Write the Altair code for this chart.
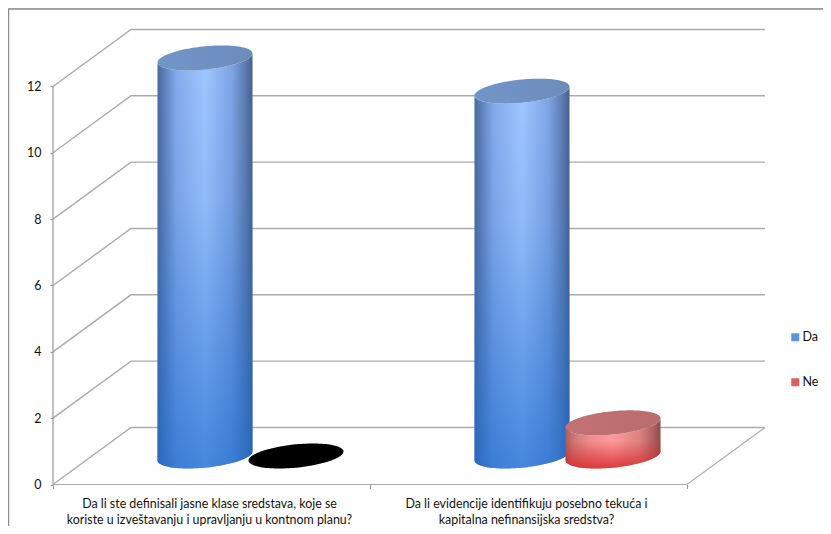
import math
import altair as alt
import pandas as pd

categories = ["Da li ste definisali jasne klase sredstava, koje se\nkoriste u izveštavanju i upravljanju u kontnom planu?",
              "Da li evidencije identifikuju posebno tekuća i\nkapitalna nefinansijska sredstva?"]
series = ["Da", "Ne"]
da_values = [12, 11]
ne_values = [0, 1]
y_ticks = [0, 2, 4, 6, 8, 10, 12]

W, H = 815, 518
PX_X = 317.0      # pixels per category
PX_Y = 33.17      # pixels per unit
X0, Y0 = 45.0, 476.5   # origin inside the svg
DEPTH_X = 78 / PX_X
DEPTH_Y = 57 / PX_Y
RX = 47.5 / PX_X
RY = 12.5 / PX_Y
PHI = math.radians(21)
SPREAD = 45.5 / PX_X

xdom = [-X0 / PX_X, (W - X0) / PX_X]
ydom = [(Y0 - H) / PX_Y, Y0 / PX_Y]
xs = alt.Scale(domain=xdom, nice=False, zero=False)
ys = alt.Scale(domain=ydom, nice=False, zero=False)
X = alt.X("x:Q", scale=xs)
Y = alt.Y("y:Q", scale=ys)
Y2 = alt.Y2("y2:Q")


def grad(stops, horizontal=True):
    return alt.LinearGradient(
        gradient="linear",
        stops=[alt.GradientStop(color=c, offset=o) for o, c in stops],
        x1=0, x2=1 if horizontal else 0, y1=0, y2=0 if horizontal else 1,
    )


def centre(cat, ser):
    return cat + 0.5 + DEPTH_X / 2 + (-SPREAD if ser == 0 else SPREAD)


def arc(t):
    return RY * math.sin(t + PHI)


def body_df(cat, ser, v):
    cx = centre(cat, ser)
    base = DEPTH_Y / 2
    rows = []
    for i in range(61):
        t = math.pi + math.pi * i / 60
        rows.append({"x": cx + RX * math.cos(t), "y": base + v + arc(t), "y2": base + arc(t)})
    return pd.DataFrame(rows)


def top_df(cat, ser, v):
    cx = centre(cat, ser)
    base = DEPTH_Y / 2
    rows = []
    for i in range(61):
        t = math.pi + math.pi * i / 60
        rows.append({"x": cx + RX * math.cos(t), "y": base + v + arc(-t), "y2": base + v + arc(t)})
    return pd.DataFrame(rows)


BLUE_H = [(0, "#4a689c"), (0.06, "#5c7cb5"), (0.2, "#86aaea"), (0.5, "#a0c7ff"), (0.78, "#80a5e4"), (0.93, "#5c7aae"), (1, "#465f8a")]
BLUE_V = [(0, "rgba(30,105,205,0)"), (0.35, "rgba(30,105,205,0.12)"), (1, "rgba(25,105,205,0.68)")]
BLUE_TOP = [(0, "#7295c9"), (1, "#6c8cbc")]
RED_H = [(0, "#a85c5c"), (0.08, "#cc7878"), (0.25, "#ee9292"), (0.5, "#ffa0a0"), (0.78, "#dd8585"), (0.93, "#ad6060"), (1, "#8f4c4c")]
RED_V = [(0, "rgba(215,40,40,0)"), (0.45, "rgba(215,40,40,0.05)"), (1, "rgba(215,40,40,0.85)")]
RED_TOP = [(0, "#c27274"), (1, "#bb6c6e")]

layers = []

# axes come first so that their definition is the one that is kept
axes_df = pd.DataFrame({"x": [0.0], "y": [0.0]})
layers.append(alt.Chart(axes_df).mark_point(opacity=0).encode(
    x=alt.X("x:Q", scale=xs, title=None, axis=alt.Axis(
        values=[0, 1, 2], labels=False, grid=False, domain=False, ticks=True,
        tickColor="#9a9a9a", tickSize=4, tickWidth=1.2, offset=-(H - Y0))),
    y=alt.Y("y:Q", scale=ys, title=None, axis=alt.Axis(
        values=y_ticks, grid=False, domain=False, ticks=True, tickColor="#9a9a9a",
        tickSize=3, tickWidth=1.2, offset=-X0, labelPadding=9, labelFont="Lato",
        labelFontSize=12.5, labelColor="#111111")),
))

# frame of the chart area
frame = pd.DataFrame({"x": [xdom[0] + 0.5 / PX_X, xdom[0] + 0.5 / PX_X, xdom[1]],
                      "y": [ydom[0], ydom[1] - 1 / PX_Y, ydom[1] - 1 / PX_Y],
                      "o": [0, 1, 2]})
layers.append(alt.Chart(frame).mark_line(color="#8c8c8c", strokeWidth=1.4).encode(
    x=X, y=Y, order="o:Q"))

# walls: gridlines run from the front edge to the back wall and across it
wall_rows = []
for v in y_ticks:
    for o, (a, b) in enumerate([(0, v), (DEPTH_X, v + DEPTH_Y), (2 + DEPTH_X, v + DEPTH_Y)]):
        wall_rows.append({"v": v, "o": o, "x": a, "y": b})
layers.append(alt.Chart(pd.DataFrame(wall_rows)).mark_line(color="#ababab", strokeWidth=1.4).encode(
    x=X, y=Y, detail="v:N", order="o:Q"))

# floor edge on the right and at the front
floor = pd.DataFrame({"x": [0, 2, 2 + DEPTH_X], "y": [0, 0, DEPTH_Y], "o": [0, 1, 2]})
layers.append(alt.Chart(floor).mark_line(color="#ababab", strokeWidth=1.2).encode(x=X, y=Y, order="o:Q"))
# value axis line
vline = pd.DataFrame({"x": [0, 0], "y": [0, max(y_ticks)], "o": [0, 1]})
layers.append(alt.Chart(vline).mark_line(color="#9a9a9a", strokeWidth=1.2).encode(x=X, y=Y, order="o:Q"))

# cylinders, "Da" first so that "Ne" overlaps it
for ser, vals in enumerate([da_values, ne_values]):
    for cat, v in enumerate(vals):
        hs, vs_, ts = (BLUE_H, BLUE_V, BLUE_TOP) if ser == 0 else (RED_H, RED_V, RED_TOP)
        if v > 0:
            b = body_df(cat, ser, v)
            layers.append(alt.Chart(b).mark_area(fill=grad(hs), line=False).encode(x=X, y=Y, y2=Y2))
            layers.append(alt.Chart(b).mark_area(fill=grad(vs_, horizontal=False), line=False).encode(x=X, y=Y, y2=Y2))
            top = top_df(cat, ser, v)
            layers.append(alt.Chart(top).mark_area(fill=grad(ts), line=False).encode(x=X, y=Y, y2=Y2))
        else:
            top = top_df(cat, ser, v)
            layers.append(alt.Chart(top).mark_area(fill="#000000", line=False).encode(x=X, y=Y, y2=Y2))

# category labels
cat_df = pd.DataFrame({"x": [i + 0.5 for i in range(len(categories))],
                       "y": [-0.42] * len(categories), "t": categories})
layers.append(alt.Chart(cat_df).mark_text(
    font="Lato", fontSize=12.4, color="#111111", baseline="top", align="center", dx=-2,
    lineBreak="\n", lineHeight=15.5).encode(x=X, y=Y, text="t:N"))

# legend
leg_df = pd.DataFrame({"s": series, "x": [0.0, 0.0], "y": [0.0, 0.0]})
layers.append(alt.Chart(leg_df).mark_square(opacity=0, size=64).encode(
    x=X, y=Y,
    color=alt.Color("s:N", scale=alt.Scale(domain=series, range=["#6093dc", "#dd5f5f"]),
                    legend=alt.Legend(title=None, orient="none", legendX=781, legendY=323,
                                      symbolType="square", symbolSize=64, symbolOpacity=1,
                                      symbolStrokeWidth=0, labelFont="Lato", labelFontSize=12.5,
                                      labelColor="#111111", rowPadding=32, labelOffset=1)),
))

chart = alt.layer(*layers).properties(width=W, height=H, padding=0, autosize=alt.AutoSizeParams(type="none")).configure_view(stroke=None).configure(background="white")
chart.save("out.html", embed_options={"renderer": "svg", "actions": False})
